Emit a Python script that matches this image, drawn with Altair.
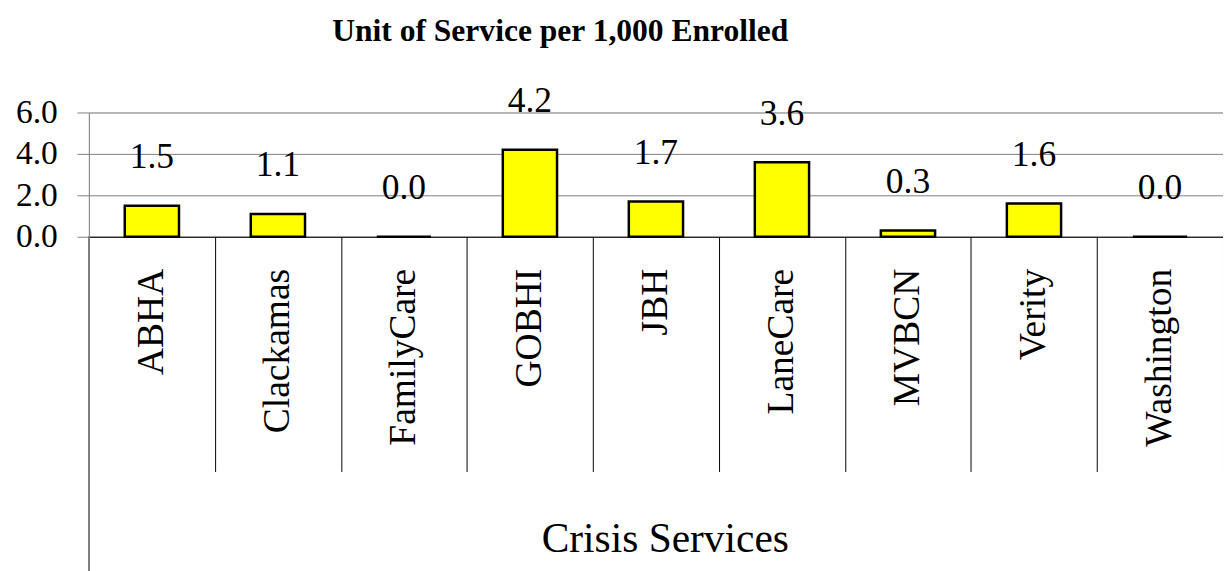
import altair as alt
import pandas as pd

categories = ["ABHA", "Clackamas", "FamilyCare", "GOBHI", "JBH",
              "LaneCare", "MVBCN", "Verity", "Washington"]
values = [1.5, 1.1, 0.0, 4.2, 1.7, 3.6, 0.3, 1.6, 0.0]
y_ticks = [0, 2, 4, 6]
title_text = "Unit of Service per 1,000 Enrolled"
group_label = "Crisis Services"

df = pd.DataFrame({"org": categories, "value": values})

FONT = "Liberation Serif"
W, H = 1150, 126
GRAY = "#7f7f7f"

x_enc = alt.X(
    "org:N", sort=categories,
    scale=alt.Scale(paddingInner=0, paddingOuter=0),
    axis=alt.Axis(
        title=group_label, labelAngle=270, labelAlign="right", labelBaseline="middle",
        labelFont=FONT, labelFontSize=38, labelColor="black", labelLimit=0,
        labelOverlap=False, labelPadding=-206,
        tickBand="extent", tickSize=238, tickColor="black", tickWidth=1,
        domainColor="black", domainWidth=1,
        titleFont=FONT, titleFontSize=42, titleFontWeight="normal", titleColor="black",
        titleX=584, titleAlign="center", titleY=319, titleBaseline="alphabetic",
    ),
)
y_enc = alt.Y(
    "value:Q",
    scale=alt.Scale(domain=[0, 6], nice=False),
    axis=alt.Axis(
        title=None, values=y_ticks, format=".1f",
        labelFont=FONT, labelFontSize=34, labelColor="black", labelPadding=20,
        tickSize=12, tickColor=GRAY, tickWidth=1,
        domainColor=GRAY, domainWidth=1,
        grid=True, gridColor=GRAY, gridWidth=1,
    ),
)

base = alt.Chart(df)

bars = base.mark_bar(size=55, fill="#FFFF00", stroke="black", strokeWidth=2.5).encode(
    x=x_enc, y=y_enc
)
labels = base.mark_text(dy=-38, baseline="alphabetic", font=FONT, fontSize=36,
                        color="black").encode(
    x=alt.X("org:N", sort=categories),
    y=alt.Y("value:Q"),
    text=alt.Text("value:Q", format=".1f"),
)
left_line = base.mark_rule(color=GRAY, strokeWidth=1).encode(
    x=alt.value(0), y=alt.value(H), y2=alt.value(H + 340)
)

chart = alt.layer(bars, labels, left_line).properties(
    width=W, height=H,
    title=alt.TitleParams(
        text=title_text, font=FONT, fontSize=32, fontWeight="bold", color="black",
        anchor="middle", frame="group", dx=-97, offset=11, baseline="alphabetic",
    ),
    autosize=alt.AutoSizeParams(type="none"),
    padding={"left": 82, "top": 102, "right": 0, "bottom": 335},
).configure_view(stroke=None).configure(background="white")

chart.save("out.html", embed_options={"renderer": "svg", "actions": False})
